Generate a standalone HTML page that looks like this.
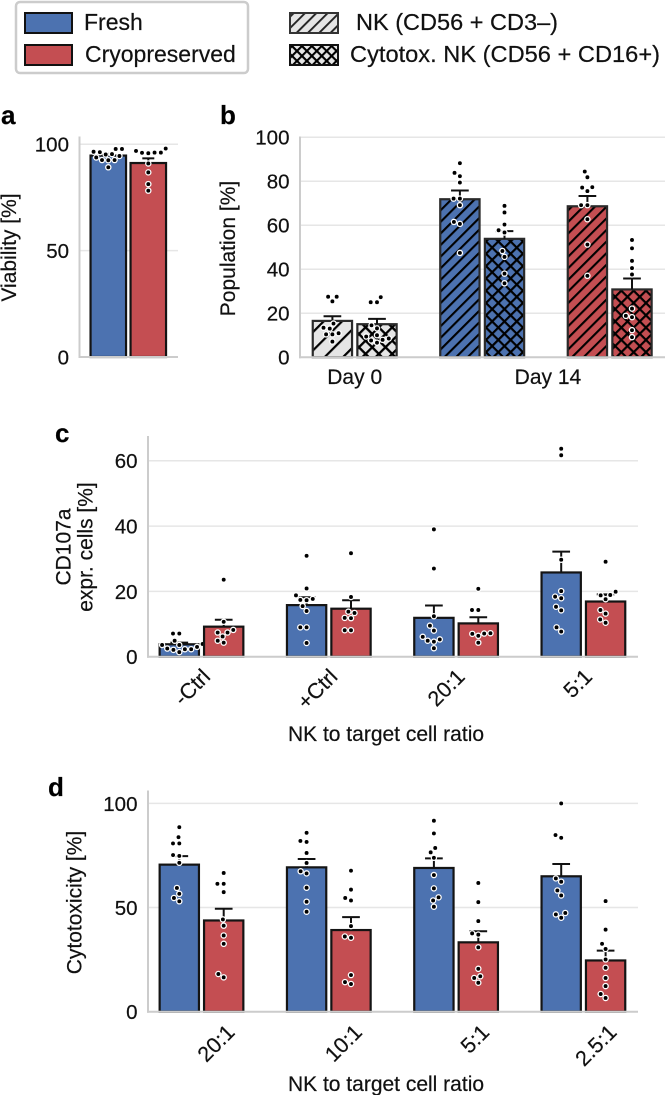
<!DOCTYPE html>
<html lang="en">
<head>
<meta charset="utf-8">
<title>NK cell viability, population, CD107a and cytotoxicity</title>
<style>
html,body{margin:0;padding:0;background:#fff;}
svg{display:block;font-family:"Liberation Sans",Arial,sans-serif;fill:#111;}
text{stroke:#111;stroke-width:.2px;}
</style>
</head>
<body>
<svg id="figure" xmlns="http://www.w3.org/2000/svg" width="665" height="1095" viewBox="0 0 665 1095">
  <defs>
    <pattern id="hatch-wide-line" patternUnits="userSpaceOnUse" width="13" height="13" patternTransform="rotate(45)"><line x1="0" y1="0" x2="0" y2="13" stroke="#000" stroke-width="4.4"/></pattern>
    <pattern id="hatch-wide-cross" patternUnits="userSpaceOnUse" width="9.4" height="9.4" patternTransform="rotate(45)"><path d="M0 0V9.4M0 0H9.4" stroke="#000" stroke-width="4.6" fill="none"/></pattern>
    <pattern id="hatch-line" patternUnits="userSpaceOnUse" width="8.2" height="8.2" patternTransform="rotate(45)"><line x1="0" y1="0" x2="0" y2="8.2" stroke="#000" stroke-width="4.2"/></pattern>
    <pattern id="hatch-cross" patternUnits="userSpaceOnUse" width="8.7" height="8.7" patternTransform="rotate(45)"><path d="M0 0V8.7M0 0H8.7" stroke="#000" stroke-width="4.4" fill="none"/></pattern>
    <pattern id="hatch-legend-line" patternUnits="userSpaceOnUse" width="8" height="8" patternTransform="rotate(45)"><line x1="0" y1="0" x2="0" y2="8" stroke="#222" stroke-width="3.8"/></pattern>
    <pattern id="hatch-legend-cross" patternUnits="userSpaceOnUse" width="7" height="7" patternTransform="rotate(45)"><path d="M0 0V7M0 0H7" stroke="#000" stroke-width="4.2" fill="none"/></pattern>
  </defs>

  <g>
    <rect x="16" y="2" width="232" height="71" rx="4" fill="#fff" stroke="#cccccc" stroke-width="2.5"/>
    <rect x="25" y="13" width="47" height="20" fill="#4c72b0" stroke="#111" stroke-width="2"/>
    <text x="84" y="30" font-size="23">Fresh</text>
    <rect x="25" y="45" width="47" height="20" fill="#c44e52" stroke="#111" stroke-width="2"/>
    <text x="85" y="62" font-size="23">Cryopreserved</text>
  </g>
  <g>
    <rect x="290" y="13" width="48" height="20" fill="#e5e5e5"/>
    <rect x="290" y="13" width="48" height="20" fill="url(#hatch-legend-line)" stroke="#333" stroke-width="2"/>
    <text x="356" y="30" font-size="23" textLength="202" lengthAdjust="spacingAndGlyphs">NK (CD56 + CD3–)</text>
    <rect x="290" y="45" width="48" height="20" fill="#e5e5e5"/>
    <rect x="290" y="45" width="48" height="20" fill="url(#hatch-legend-cross)" stroke="#111" stroke-width="2"/>
    <text x="350" y="62" font-size="23" textLength="310" lengthAdjust="spacingAndGlyphs">Cytotox. NK (CD56 + CD16+)</text>
  </g>
</svg>

<script>
// ---------- Panel a ----------
const panelACategories = ['Fresh', 'Cryopreserved'];
const panelAMeans = [94.7, 91.2];
const panelAErrors = [0.8, 2.2];
const panelAPoints = [
  [97.8, 97.8, 96.5, 96.3, 95.4, 95.2, 94.5, 93.8, 92.6, 92.6, 92.5, 89.2],
  [98, 96.9, 96.1, 96.1, 96.0, 95.8, 91, 86.8, 81.3, 78.2]
];
const panelATicks = [0, 50, 100];

// ---------- Panel b ----------
const panelBCategories = ['Day 0 NK', 'Day 0 cytotox. NK', 'Day 14 fresh NK', 'Day 14 fresh cytotox. NK', 'Day 14 cryo NK', 'Day 14 cryo cytotox. NK'];
const panelBMeans = [16.5, 15, 71.8, 53.8, 68.6, 30.8];
const panelBErrors = [2.1, 2.4, 4, 3.5, 4.7, 5];
const panelBPoints = [
  [27.5, 27.5, 25.4, 15.3, 13.4, 13, 10.9, 10.4, 10.4, 7.1],
  [27.3, 25, 25, 14.5, 13.1, 10, 9.4, 8.5, 7.9, 7.6, 6.6],
  [88.2, 83.8, 82.3, 79.4, 72.1, 72.1, 69.1, 61.5, 60.6, 47.4],
  [68.8, 65.8, 60.3, 57.7, 56.7, 48.3, 45.6, 38, 33.6],
  [84.4, 81.8, 77.3, 77.1, 75.5, 69.1, 69.1, 62.7, 51.2, 37],
  [53.3, 49.5, 43.8, 40.5, 37.6, 22.1, 18.8, 18.2, 12.3, 9.1]
];
const panelBTicks = [0, 20, 40, 60, 80, 100];
const panelBGroupLabels = ['Day 0', 'Day 14'];

// ---------- Panel c ----------
const panelCCategories = ['-Ctrl', '+Ctrl', '20:1', '5:1'];
const panelCFreshMeans = [3.8, 15.8, 11.9, 25.8];
const panelCCryoMeans = [9.2, 14.7, 10.2, 16.9];
const panelCFreshErrors = [0.5, 2.4, 3.8, 6.4];
const panelCCryoErrors = [2.1, 2.6, 1.9, 2.2];
const panelCFreshPoints = [
  [7.1, 7.1, 4.9, 3.9, 3.6, 3.6, 3, 2.5, 2.3, 2.3, 2.1, 1.4],
  [30.9, 20.9, 18.8, 17.7, 17.4, 17.3, 15.5, 14, 9, 9, 4.2],
  [39, 27, 12.4, 9.5, 8, 6.1, 5.3, 4.9, 4.6, 2.6],
  [63.7, 61.7, 29.7, 20.1, 18.4, 17.9, 15.3, 14.2, 9, 7.7]
];
const panelCCryoPoints = [
  [23.6, 10.7, 8.2, 7.4, 7.4, 6.2, 4.9, 4.3],
  [31.7, 18.3, 13.8, 13.4, 11.9, 11.8, 8.1, 8.1],
  [20.8, 14.3, 14.3, 7.2, 7.1, 7, 6.4, 4.3],
  [29.1, 19.9, 18.9, 18.8, 17.6, 14.3, 13.2, 11.4, 10.4]
];
const panelCTicks = [0, 20, 40, 60];

// ---------- Panel d ----------
const panelDCategories = ['20:1', '10:1', '5:1', '2.5:1'];
const panelDFreshMeans = [70.6, 69.3, 69, 65];
const panelDCryoMeans = [43.8, 39.2, 33.3, 24.6];
const panelDFreshErrors = [4.1, 4, 4.6, 5.9];
const panelDCryoErrors = [5.6, 6.2, 5.3, 4.7];
const panelDFreshPoints = [
  [88.6, 83.8, 80.8, 80.8, 75.2, 74.8, 71.5, 59.4, 56.6, 54.6, 53],
  [85.9, 82, 81.5, 76.2, 71.4, 67.4, 66.4, 59.5, 52.8, 48],
  [91.7, 85.6, 78.6, 76.5, 73.9, 65.6, 59.2, 54.9, 53.4, 50.4],
  [100, 84.8, 83.5, 64, 62.4, 58.2, 55.8, 47.4, 46.7, 45.1]
];
const panelDCryoPoints = [
  [66.6, 61.4, 61.4, 57.4, 44.3, 41.3, 36.6, 32.6, 18.1, 16.5],
  [67.7, 58.6, 54.6, 53.4, 41.1, 36.1, 35.5, 17.6, 14.2, 13.3],
  [61.8, 52.6, 43.5, 37.6, 37, 30.9, 20.6, 17, 16.2, 13.9],
  [53.1, 39.4, 32.6, 30.1, 25.1, 21.1, 16.2, 12.3, 8.5, 6.6]
];
const panelDTicks = [0, 50, 100];

// ---------- Drawing ----------
const SVG_NS = 'http://www.w3.org/2000/svg';
const figure = document.getElementById('figure');
const BLUE = '#4c72b0';
const RED = '#c44e52';
const GREY = '#e5e5e5';
const DOT_GAP = 6.3;

function make(tag, attrs, parent) {
  const el = document.createElementNS(SVG_NS, tag);
  for (const key in attrs) el.setAttribute(key, attrs[key]);
  parent.appendChild(el);
  return el;
}

function slug(text) {
  return String(text).toLowerCase().replace(/[^a-z0-9]+/g, '-').replace(/^-|-$/g, '');
}

// Beeswarm layout computed from the values: lowest first, nearest free slot to the centre.
function swarmOffsets(values, yOf) {
  const order = values.map((v, i) => i).sort((a, b) => values[a] - values[b]);
  const placed = [];
  const offsets = new Array(values.length).fill(0);
  order.forEach(idx => {
    const py = yOf(values[idx]);
    const near = placed.filter(p => Math.abs(p.y - py) < DOT_GAP);
    const candidates = [0];
    near.forEach(p => {
      const d = Math.sqrt(DOT_GAP * DOT_GAP - (p.y - py) * (p.y - py));
      candidates.push(p.x - d, p.x + d);
    });
    candidates.sort((a, b) => Math.abs(a) - Math.abs(b));
    let chosen = 0;
    for (const c of candidates) {
      const clash = near.some(p => Math.hypot(p.x - c, p.y - py) < DOT_GAP - 0.01);
      if (!clash) { chosen = c; break; }
    }
    placed.push({x: chosen, y: py});
    offsets[idx] = chosen;
  });
  return offsets;
}

function drawAxes(name, frame, ticks, yOf) {
  const g = make('g', {}, figure);
  
  
  ticks.forEach(tick => {
    const y = yOf(tick);
    if (tick !== 0) {
      const grid = make('line', {x1: frame.left, x2: frame.right, y1: y, y2: y, stroke: '#e6e6e6', 'stroke-width': 1.5}, g);
      
      
    }
    const label = make('text', {x: frame.left - 10.5, y: y + 7.4, 'text-anchor': 'end', 'font-size': 20.5}, g);
    label.textContent = tick;
    
    
  });
  const yAxis = make('line', {x1: frame.left, x2: frame.left, y1: frame.top, y2: yOf(0) + 1, stroke: '#cccccc', 'stroke-width': 2}, g);
  
  
  return g;
}

function drawBottomAxis(name, frame, yOf) {
  const xAxis = make('line', {x1: frame.left - 1, x2: frame.right, y1: yOf(0), y2: yOf(0), stroke: '#cccccc', 'stroke-width': 2}, figure);
  
  
}

function drawBar(name, label, cx, width, mean, err, points, yOf, fill, hatch, cap) {
  const g = make('g', {}, figure);
  
  
  const top = yOf(mean);
  const base = yOf(0);
  const body = make('rect', {x: cx - width / 2, y: top, width: width, height: base - top, fill: fill, stroke: 'none'}, g);
  
  
  if (hatch) {
    const hatchRect = make('rect', {x: cx - width / 2, y: top, width: width, height: base - top, fill: 'url(#' + hatch + ')', stroke: 'none'}, g);
    
    
  }
  const edge = make('rect', {x: cx - width / 2, y: top, width: width, height: base - top, fill: 'none', stroke: hatch ? '#2a2a2a' : '#141414', 'stroke-width': 2.2}, g);
  
  

  const errTop = yOf(mean + err);
  const stem = make('line', {x1: cx, x2: cx, y1: top, y2: errTop, stroke: '#111', 'stroke-width': 2}, g);
  
  
  const capLine = make('line', {x1: cx - cap / 2, x2: cx + cap / 2, y1: errTop, y2: errTop, stroke: '#111', 'stroke-width': 2}, g);
  
  

  const offsets = swarmOffsets(points, yOf);
  points.forEach((v, i) => {
    const dot = make('circle', {cx: cx + offsets[i], cy: yOf(v), r: 2.6, fill: '#000', stroke: '#fff', 'stroke-width': 1.3}, g);
    
    
  });
}

function addText(name, str, x, y, size, opts) {
  const t = make('text', Object.assign({x: x, y: y, 'font-size': size}, opts || {}), figure);
  t.textContent = str;
  
  
  return t;
}

function addVerticalText(name, str, x, y, size) {
  const t = make('text', {transform: 'translate(' + x + ' ' + y + ') rotate(-90)', 'text-anchor': 'middle', 'font-size': size}, figure);
  t.textContent = str;
  
  
}

function addSlantedText(name, str, x, y, size) {
  const t = make('text', {transform: 'translate(' + x + ' ' + y + ') rotate(-45)', 'text-anchor': 'end', 'font-size': size}, figure);
  t.textContent = str;
  
  
}

// Panel a
(function () {
  const yOf = v => 357 - v * 2.127;
  const frame = {left: 79.5, right: 178, top: 136.5};
  drawAxes('panel-a', frame, panelATicks, yOf);
  const xOf = i => 108.3 + i * 40;
  panelACategories.forEach((cat, i) => {
    drawBar('panel-a', cat, xOf(i), 35.5, panelAMeans[i], panelAErrors[i], panelAPoints[i], yOf, i === 0 ? BLUE : RED, null, 12);
  });
  drawBottomAxis('panel-a', frame, yOf);
  addVerticalText('panel-a-y-axis-title', 'Viability [%]', 16, 247.5, 21);
  addText('panel-a-letter', 'a', 1, 124, 26, {'font-weight': 'bold', fill: '#000'});
})();

// Panel b
(function () {
  const yOf = v => 357.2 - v * 2.2;
  const frame = {left: 300, right: 665, top: 136.5};
  drawAxes('panel-b', frame, panelBTicks, yOf);
  const pairCentre = i => 354.7 + i * 127.5;
  const xOf = i => pairCentre(Math.floor(i / 2)) + (i % 2 === 0 ? -22.3 : 22.3);
  const fills = [GREY, GREY, BLUE, BLUE, RED, RED];
  const hatches = ['hatch-wide-line', 'hatch-wide-cross', 'hatch-line', 'hatch-cross', 'hatch-line', 'hatch-cross'];
  panelBCategories.forEach((cat, i) => {
    drawBar('panel-b', cat, xOf(i), 39.3, panelBMeans[i], panelBErrors[i], panelBPoints[i], yOf, fills[i], hatches[i], 17.7);
  });
  drawBottomAxis('panel-b', frame, yOf);
  addText('panel-b-x-tick-day-0', panelBGroupLabels[0], pairCentre(0), 384, 21, {'text-anchor': 'middle'});
  addText('panel-b-x-tick-day-14', panelBGroupLabels[1], (pairCentre(1) + pairCentre(2)) / 2 + 2, 384, 21, {'text-anchor': 'middle'});
  addVerticalText('panel-b-y-axis-title', 'Population [%]', 235, 248.5, 21);
  addText('panel-b-letter', 'b', 220, 124, 26, {'font-weight': 'bold', fill: '#000'});
})();

// Panel c
(function () {
  const yOf = v => 656.7 - v * 3.265;
  const frame = {left: 148, right: 638, top: 436};
  drawAxes('panel-c', frame, panelCTicks, yOf);
  const centre = i => 201.5 + i * 127.3;
  panelCCategories.forEach((cat, i) => {
    drawBar('panel-c', cat + ' fresh', centre(i) - 22.2, 39.3, panelCFreshMeans[i], panelCFreshErrors[i], panelCFreshPoints[i], yOf, BLUE, null, 17.7);
    drawBar('panel-c', cat + ' cryo', centre(i) + 22.2, 39.3, panelCCryoMeans[i], panelCCryoErrors[i], panelCCryoPoints[i], yOf, RED, null, 17.7);
    addSlantedText('panel-c-x-tick-' + slug(cat), cat, centre(i) + 10, 678, 21.5);
  });
  drawBottomAxis('panel-c', frame, yOf);
  addText('panel-c-x-axis-title', 'NK to target cell ratio', 386, 741, 21, {'text-anchor': 'middle'});
  addVerticalText('panel-c-y-axis-title-line-1', 'CD107a', 70.5, 547, 21);
  addVerticalText('panel-c-y-axis-title-line-2', 'expr. cells [%]', 92.5, 547, 21);
  addText('panel-c-letter', 'c', 55, 442, 26, {'font-weight': 'bold', fill: '#000'});
})();

// Panel d
(function () {
  const yOf = v => 1011.7 - v * 2.083;
  const frame = {left: 148, right: 638, top: 790.5};
  drawAxes('panel-d', frame, panelDTicks, yOf);
  const centre = i => 201.5 + i * 127.3;
  panelDCategories.forEach((cat, i) => {
    drawBar('panel-d', cat + ' fresh', centre(i) - 22.2, 39.3, panelDFreshMeans[i], panelDFreshErrors[i], panelDFreshPoints[i], yOf, BLUE, null, 17.7);
    drawBar('panel-d', cat + ' cryo', centre(i) + 22.2, 39.3, panelDCryoMeans[i], panelDCryoErrors[i], panelDCryoPoints[i], yOf, RED, null, 17.7);
    addSlantedText('panel-d-x-tick-' + slug(cat), cat, centre(i) + 34.5, 1033.5, 21.5);
  });
  drawBottomAxis('panel-d', frame, yOf);
  addText('panel-d-x-axis-title', 'NK to target cell ratio', 386, 1091, 21, {'text-anchor': 'middle'});
  addVerticalText('panel-d-y-axis-title', 'Cytotoxicity [%]', 81.5, 902.5, 21);
  addText('panel-d-letter', 'd', 48, 796, 26, {'font-weight': 'bold', fill: '#000'});
})();
</script>
</body>
</html>
